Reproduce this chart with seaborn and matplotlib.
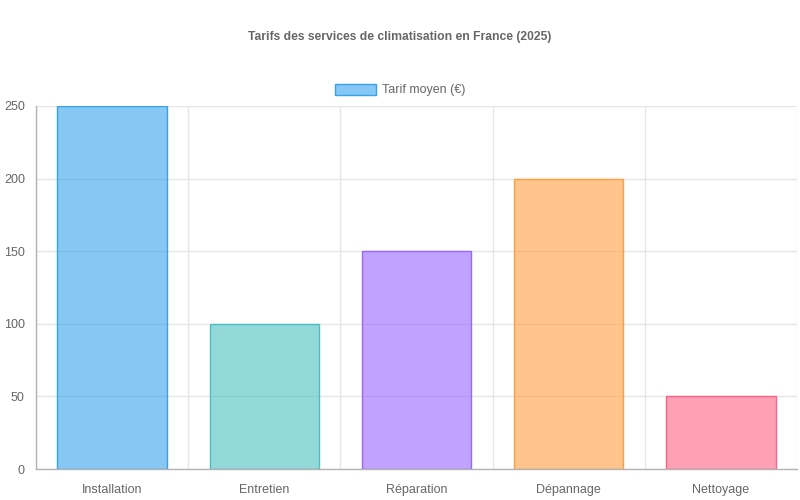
import matplotlib.pyplot as plt
import matplotlib.colors as mcolors
import seaborn as sns
import pandas as pd
from matplotlib.patches import Patch
from matplotlib.ticker import FixedLocator

sns.set_theme(style="white")
plt.rcParams['font.family'] = ['Liberation Sans', 'DejaVu Sans']

# Données
services = ['Installation', 'Entretien', 'Réparation', 'Dépannage', 'Nettoyage']
tarifs = [250, 100, 150, 200, 50]
bordures = ['#36a2eb', '#4bc0c0', '#9966ff', '#ff9f40', '#ff6384']

df = pd.DataFrame({'service': services, 'tarif': tarifs})

fig = plt.figure(figsize=(8, 5), dpi=100)
ax = fig.add_axes([36 / 800, 31 / 500, 761 / 800, 363 / 500])

sns.barplot(data=df, x='service', y='tarif', hue='service', palette=bordures,
            legend=False, width=0.72, ax=ax, saturation=1, zorder=3)
for patch, c in zip(ax.patches, bordures):
    patch.set_facecolor((*mcolors.to_rgb(c), 0.6))
    patch.set_edgecolor(c)
    patch.set_linewidth(1)
    patch.set_zorder(3)

ax.set_xlim(-0.5, len(services) - 0.5)
ax.set_ylim(0, 250)
ax.set_yticks([0, 50, 100, 150, 200, 250])
ax.xaxis.set_minor_locator(FixedLocator([i - 0.5 for i in range(len(services) + 1)]))
ax.set_xlabel('')
ax.set_ylabel('')

grille = '#e6e6e6'
axe = '#b3b3b3'
ax.set_axisbelow(True)
ax.grid(True, which='minor', axis='x', color=grille, linewidth=1, zorder=0)
ax.grid(True, which='major', axis='y', color=grille, linewidth=1, zorder=0)
ax.grid(False, which='major', axis='x')
ax.tick_params(axis='x', which='major', length=0, pad=11, labelsize=9, labelcolor='#666666')
ax.tick_params(axis='x', which='minor', length=7.5, color=grille, width=1)
ax.tick_params(axis='y', length=6, color=grille, width=1, pad=2, labelsize=9, labelcolor='#666666')

for s in ['top', 'right']:
    ax.spines[s].set_visible(False)
for s in ['left', 'bottom']:
    ax.spines[s].set_color(axe)
    ax.spines[s].set_linewidth(1)
    ax.spines[s].set_zorder(4)

fig.suptitle('Tarifs des services de climatisation en France (2025)', y=1 - 37 / 500,
             va='center', fontsize=8.7, fontweight='bold', color='#666666')

handle = Patch(facecolor=(54 / 255, 162 / 255, 235 / 255, 0.6), edgecolor='#36a2eb', linewidth=1)
fig.legend([handle], ['Tarif moyen (€)'], loc='center', bbox_to_anchor=(0.5, 1 - 90 / 500),
           frameon=False, fontsize=9, labelcolor='#666666', handlelength=3.3, handleheight=1.0,
           handletextpad=0.5)

fig.savefig('out.png', dpi=100)
